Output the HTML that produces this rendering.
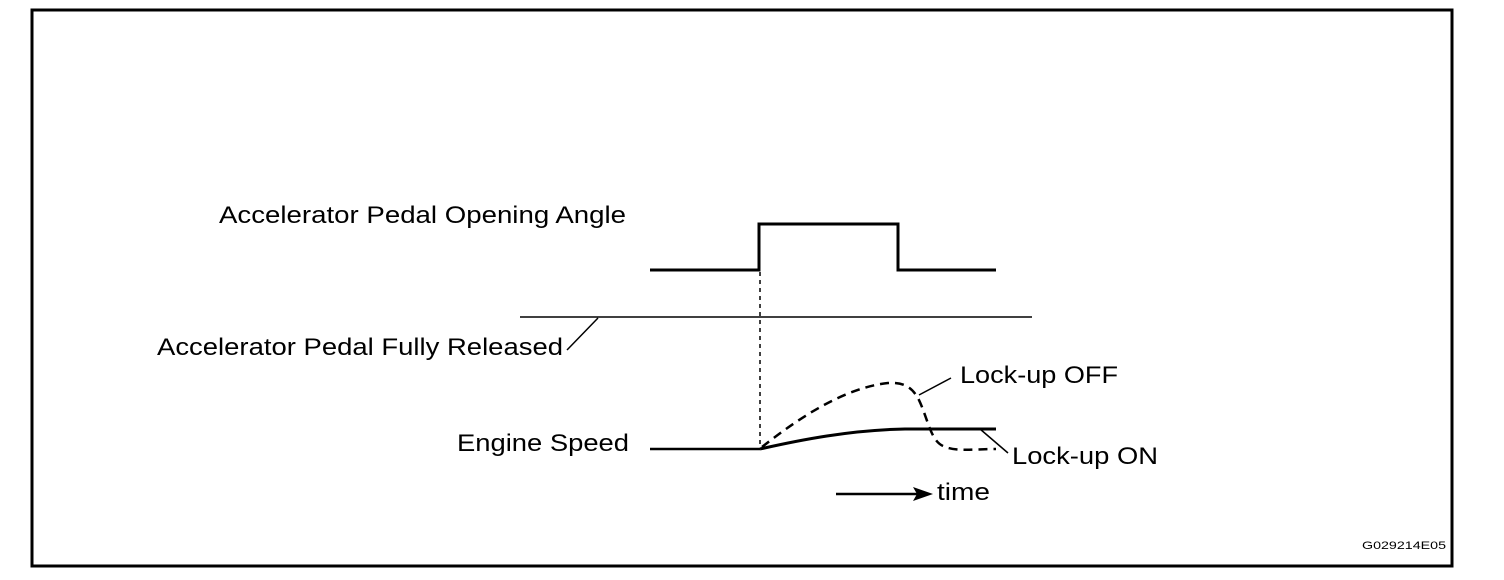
<!DOCTYPE html>
<html><head><style>
body{margin:0;background:#fff;}
svg{display:block;font-family:"Liberation Sans",Arial,sans-serif;}
</style></head><body>
<svg width="1504" height="580" viewBox="0 0 1504 580">
<rect x="32" y="10" width="1420" height="556" fill="none" stroke="#000" stroke-width="3"/>
<g font-size="24" fill="#000" lengthAdjust="spacingAndGlyphs">
<text x="219" y="223" textLength="407" lengthAdjust="spacingAndGlyphs">Accelerator Pedal Opening Angle</text>
<text x="157" y="355" textLength="406" lengthAdjust="spacingAndGlyphs">Accelerator Pedal Fully Released</text>
<text x="457" y="451" textLength="172" lengthAdjust="spacingAndGlyphs">Engine Speed</text>
<text x="960" y="383" textLength="158" lengthAdjust="spacingAndGlyphs">Lock-up OFF</text>
<text x="1012" y="464" textLength="146" lengthAdjust="spacingAndGlyphs">Lock-up ON</text>
<text x="937" y="500" textLength="53" lengthAdjust="spacingAndGlyphs">time</text>
</g>
<text x="1362" y="549" font-size="11" textLength="84" lengthAdjust="spacingAndGlyphs">G029214E05</text>
<g fill="none" stroke="#000">
<polyline points="650,270 759,270 759,224 898,224 898,270 996,270" stroke-width="3"/>
<line x1="520" y1="317" x2="1032" y2="317" stroke-width="1.5"/>
<line x1="760" y1="272" x2="760" y2="448" stroke-width="1.5" stroke-dasharray="4,4"/>
<line x1="650" y1="449" x2="760" y2="449" stroke-width="2.5"/>
<path d="M760,449 C800,440 850,430 905,429 L996,429" stroke-width="3"/>
<path d="M762,447 C790,425 840,388 888,383 C905,382 912,388 918,398 C928,418 930,440 943,446 C955,452 975,449 996,449" stroke-width="2.5" stroke-dasharray="9,6"/>
<line x1="919" y1="395" x2="951" y2="378" stroke-width="1.5"/>
<line x1="980" y1="429" x2="1008" y2="453" stroke-width="1.5"/>
<line x1="567" y1="350" x2="598" y2="318" stroke-width="1.5"/>
<line x1="836" y1="494" x2="920" y2="494" stroke-width="2.5"/>
</g>
<polygon points="933,494 913,487 917,494 913,501" fill="#000"/>
</svg>
</body></html>
